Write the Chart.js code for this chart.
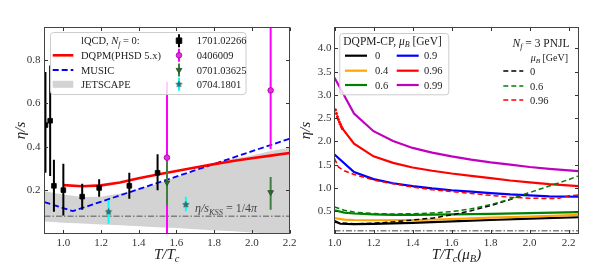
<!DOCTYPE html>
<html>
<head>
<meta charset="utf-8">
<script src="https://cdn.jsdelivr.net/npm/chart.js@4.4.0/dist/chart.umd.min.js"></script>
<style>
  html, body { margin: 0; padding: 0; background: #fff; }
  #wrap { position: relative; width: 600px; height: 275px; }
  canvas { position: absolute; top: 0; }
  #left { left: 0; }
  #right { left: 300px; }
</style>
</head>
<body>
<div id="wrap">
  <canvas id="left" width="300" height="275"></canvas>
  <canvas id="right" width="300" height="275"></canvas>
</div>
<script>
// ---------- left panel data (eta/s vs T/Tc, mu_B = 0) ----------
const leftXTicks = [1.0, 1.2, 1.4, 1.6, 1.8, 2.0, 2.2];
const leftYTicks = [0.2, 0.4, 0.6, 0.8];
const kss = 1 / (4 * Math.PI);

const dqpmT = [1.0, 1.1, 1.2, 1.3, 1.4, 1.5, 1.6, 1.7, 1.8, 1.9, 2.0, 2.1, 2.2];
const dqpmEta = [0.223, 0.218, 0.222, 0.235, 0.255, 0.272, 0.288, 0.304, 0.32, 0.334, 0.347, 0.359, 0.371];

const musicT = [0.9, 1.05, 2.2];
const musicEta = [0.145, 0.103, 0.437];

const jetT = [0.9, 1.0, 1.1, 1.2, 1.3, 1.4, 1.5, 1.6, 1.7, 1.8, 1.9, 2.0, 2.1, 2.2];
const jetLow = [0.055, 0.05, 0.046, 0.042, 0.038, 0.034, 0.029, 0.025, 0.02, 0.015, 0.01, 0.005, 0, 0];
const jetHigh = [0.195, 0.18, 0.168, 0.17, 0.185, 0.205, 0.23, 0.26, 0.29, 0.32, 0.345, 0.36, 0.38, 0.395];

// lattice points: 1701.02266
const lat1T = [0.905, 0.93, 0.95, 1.0, 1.1, 1.19, 1.35, 1.5];
const lat1Eta = [0.50, 0.52, 0.22, 0.20, 0.17, 0.21, 0.22, 0.28];
const lat1Lo = [0.28, 0.265, 0.10, 0.083, 0.11, 0.17, 0.16, 0.20];
const lat1Hi = [0.745, 0.775, 0.34, 0.322, 0.23, 0.25, 0.28, 0.365];
// 0406009
const lat2T = [1.55, 2.1];
const lat2Eta = [0.35, 0.66];
const lat2Lo = [0.0, 0.39];
const lat2Hi = [0.70, 0.95];
// 0701.03625
const lat3T = [1.55, 2.1];
const lat3Eta = [0.235, 0.19];
const lat3Lo = [0.13, 0.11];
const lat3Hi = [0.33, 0.26];
// 0704.1801
const lat4T = [1.24, 1.65];
const lat4Eta = [0.10, 0.133];
const lat4Lo = [0.045, 0.103];
const lat4Hi = [0.155, 0.17];

const refLabels = ['1701.02266', '0406009', '0701.03625', '0704.1801'];
const modelLabels = ['DQPM(PHSD 5.x)', 'MUSIC', 'JETSCAPE'];

// ---------- right panel data (eta/s vs T/Tc(mu_B)) ----------
const rightXTicks = [1.0, 1.2, 1.4, 1.6, 1.8, 2.0, 2.2];
const rightYTicks = [0.5, 1.0, 1.5, 2.0, 2.5, 3.0, 3.5, 4.0];

const cp0T = [1.0, 1.03, 1.1, 1.2, 1.4, 1.6, 1.8, 2.0, 2.25];
const cp0 = [0.29, 0.23, 0.22, 0.225, 0.25, 0.28, 0.31, 0.34, 0.37];
const cp04T = [1.0, 1.05, 1.1, 1.2, 1.4, 1.6, 1.8, 2.0, 2.25];
const cp04 = [0.35, 0.32, 0.31, 0.305, 0.31, 0.33, 0.36, 0.385, 0.42];
const cp06T = [1.0, 1.05, 1.1, 1.2, 1.3, 1.4, 1.6, 1.8, 2.0, 2.25];
const cp06 = [0.52, 0.47, 0.45, 0.43, 0.42, 0.42, 0.43, 0.44, 0.46, 0.48];
const cp09T = [1.0, 1.1, 1.2, 1.3, 1.4, 1.5, 1.6, 1.7, 1.8, 1.9, 2.0, 2.1, 2.25];
const cp09 = [1.72, 1.34, 1.19, 1.10, 1.04, 0.99, 0.95, 0.92, 0.89, 0.86, 0.84, 0.82, 0.81];
const cp096T = [1.04, 1.1, 1.2, 1.3, 1.4, 1.5, 1.6, 1.7, 1.8, 1.9, 2.0, 2.1, 2.25];
const cp096 = [2.28, 1.95, 1.68, 1.54, 1.44, 1.37, 1.31, 1.26, 1.21, 1.16, 1.12, 1.08, 1.04];
const cp096DotT = [1.005, 1.01, 1.015, 1.02, 1.025, 1.03, 1.035, 1.04];
const cp096Dot = [2.68, 2.60, 2.53, 2.47, 2.42, 2.37, 2.32, 2.28];
const cp099T = [1.0, 1.1, 1.2, 1.3, 1.4, 1.5, 1.6, 1.7, 1.8, 1.9, 2.0, 2.1, 2.25];
const cp099 = [3.37, 2.60, 2.22, 2.01, 1.86, 1.76, 1.68, 1.61, 1.55, 1.50, 1.45, 1.41, 1.36];

const pn0T = [1.0, 1.1, 1.2, 1.3, 1.4, 1.5, 1.6, 1.7, 1.8, 1.9, 2.0];
const pn0 = [0.26, 0.23, 0.24, 0.27, 0.31, 0.35, 0.42, 0.51, 0.62, 0.75, 0.90];
const pn06T = [1.0, 1.05, 1.1, 1.2, 1.3, 1.4, 1.5, 1.6, 1.7, 1.8, 1.9, 2.0, 2.1, 2.2, 2.25];
const pn06 = [0.59, 0.52, 0.48, 0.45, 0.44, 0.445, 0.46, 0.49, 0.55, 0.64, 0.76, 0.90, 1.04, 1.18, 1.26];
const pn096T = [1.0, 1.02, 1.05, 1.1, 1.2, 1.3, 1.4, 1.5, 1.6, 1.7, 1.8, 1.9, 2.0, 2.1, 2.15, 2.2, 2.25];
const pn096 = [1.63, 1.45, 1.37, 1.29, 1.17, 1.09, 1.02, 0.96, 0.92, 0.88, 0.84, 0.80, 0.78, 0.77, 0.78, 0.83, 0.85];

const cpLabels = ['0', '0.4', '0.6', '0.9', '0.96', '0.99'];
const pnLabels = ['0', '0.6', '0.96'];

// ---------- helpers ----------
const SERIF = '"Liberation Serif", "DejaVu Serif", serif';
const C = {
  black: '#000000', orange: '#ffa500', green: '#008000', blue: '#0000ff',
  red: '#ff0000', purple: '#bf00bf', grey: '#808080', band: '#d3d3d3',
  mag: '#ff00ff', dgreen: '#3f7f3f', cyan: '#00ffff'
};

function pts(xs, ys) { return xs.map((x, i) => ({ x: x, y: ys[i] })); }
function lineSet(data, color, width, dash, order) {
  return { data, borderColor: color, backgroundColor: color, borderWidth: width, borderDash: dash || [],
           showLine: true, pointRadius: 0, pointHoverRadius: 0, tension: 0, fill: false, order };
}
// one small vertical line dataset per error bar
function barSets(xs, lo, hi, color, order) {
  return xs.map((x, i) => lineSet([{ x: x, y: lo[i] }, { x: x, y: hi[i] }], color, 2, [], order));
}
function markSet(data, style, radius, fill, edge, order, rot) {
  return { data, pointStyle: style, pointRadius: radius, pointBackgroundColor: fill, pointBorderColor: edge,
           pointBorderWidth: 0.8, pointRotation: rot || 0, showLine: false, order };
}
function starCanvas(r, fill, edge) {
  const s = Math.ceil(r * 2 + 2);
  const c = document.createElement('canvas');
  c.width = c.height = s;
  const g = c.getContext('2d');
  g.beginPath();
  for (let i = 0; i < 10; i++) {
    const rr = i % 2 ? r * 0.45 : r;
    const a = -Math.PI / 2 + i * Math.PI / 5;
    g.lineTo(s / 2 + rr * Math.cos(a), s / 2 + rr * Math.sin(a));
  }
  g.closePath();
  g.fillStyle = fill; g.fill();
  g.strokeStyle = edge; g.lineWidth = 0.6; g.stroke();
  return c;
}
const star = starCanvas(3.2, '#2a7a7a', '#174848');

// text with italic / subscript pieces: r roman, i italic, is italic subscript
function rich(ctx, parts, x, y, size, align, color) {
  const font = k => {
    const sub = k.indexOf('s') >= 0;
    const sz = sub ? size * 0.7 : size;
    return [(k.indexOf('i') >= 0 ? 'italic ' : '') + sz + 'px ' + SERIF, sub ? size * 0.25 : 0];
  };
  ctx.save();
  let w = 0;
  parts.forEach(p => { ctx.font = font(p[1])[0]; w += ctx.measureText(p[0]).width; });
  let cx = align === 'center' ? x - w / 2 : (align === 'right' ? x - w : x);
  ctx.fillStyle = color || '#222';
  ctx.textAlign = 'left';
  ctx.textBaseline = 'alphabetic';
  parts.forEach(p => {
    const f = font(p[1]);
    ctx.font = f[0];
    ctx.fillText(p[0], cx, y + f[1]);
    cx += ctx.measureText(p[0]).width;
  });
  ctx.restore();
}

function seg(ctx, x0, y0, x1, y1, color, width, dash) {
  ctx.save();
  ctx.strokeStyle = color; ctx.lineWidth = width; ctx.setLineDash(dash || []);
  ctx.beginPath(); ctx.moveTo(x0, y0); ctx.lineTo(x1, y1); ctx.stroke();
  ctx.restore();
}

function legendBox(ctx, x0, y0, x1, y1) {
  ctx.save();
  ctx.beginPath();
  ctx.roundRect(x0 + 0.5, y0 + 0.5, x1 - x0, y1 - y0, 3);
  ctx.fillStyle = 'rgba(255,255,255,0.8)';
  ctx.fill();
  ctx.strokeStyle = '#cccccc'; ctx.lineWidth = 1;
  ctx.stroke();
  ctx.restore();
}

function errHandle(ctx, x, y, color, kind, fill, edge) {
  seg(ctx, x, y - 6.5, x, y + 6.5, color, 2);
  ctx.save();
  ctx.fillStyle = fill; ctx.strokeStyle = edge; ctx.lineWidth = 0.8;
  ctx.beginPath();
  if (kind === 'rect') ctx.rect(x - 2.8, y - 2.8, 5.6, 5.6);
  if (kind === 'circle') ctx.arc(x, y, 2.8, 0, 2 * Math.PI);
  if (kind === 'tri') { ctx.moveTo(x - 2.9, y - 1.6); ctx.lineTo(x + 2.9, y - 1.6); ctx.lineTo(x, y + 3.3); ctx.closePath(); }
  if (kind !== 'star') { ctx.fill(); ctx.stroke(); }
  else ctx.drawImage(star, x - star.width / 2, y - star.height / 2);
  ctx.restore();
}

function frameTicks(chart) {
  const { ctx, chartArea: a } = chart;
  const xs = chart.scales.x, ys = chart.scales.y;
  ctx.save();
  ctx.strokeStyle = '#333'; ctx.lineWidth = 1;
  ctx.beginPath();
  xs.ticks.forEach(t => {
    const p = Math.round(xs.getPixelForValue(t.value)) + 0.5;
    ctx.moveTo(p, a.bottom); ctx.lineTo(p, a.bottom - 3.5);
    ctx.moveTo(p, a.top); ctx.lineTo(p, a.top + 3.5);
  });
  ys.ticks.forEach(t => {
    const p = Math.round(ys.getPixelForValue(t.value)) + 0.5;
    ctx.moveTo(a.left, p); ctx.lineTo(a.left + 3.5, p);
    ctx.moveTo(a.right, p); ctx.lineTo(a.right - 3.5, p);
  });
  ctx.stroke();
  ctx.strokeStyle = '#444';
  ctx.strokeRect(a.left, a.top, a.right - a.left, a.bottom - a.top);
  ctx.restore();
}

function makeChart(id, datasets, cfg, decor) {
  const tickFont = { family: SERIF, size: 11 };
  return new Chart(document.getElementById(id), {
    type: 'scatter',
    data: { datasets },
    options: {
      responsive: false,
      animation: false,
      devicePixelRatio: 1,
      events: [],
      layout: { padding: { left: 0, right: cfg.padRight, top: cfg.padTop, bottom: 0 } },
      plugins: { legend: { display: false }, tooltip: { enabled: false } },
      scales: {
        x: {
          type: 'linear', min: cfg.xMin, max: cfg.xMax,
          grid: { display: false, drawTicks: false }, border: { display: false },
          ticks: { font: tickFont, color: '#333', padding: 3, callback: v => v.toFixed(1) },
          afterBuildTicks: s => { s.ticks = cfg.xTicks.map(v => ({ value: v })); },
          afterFit: s => { s.height = cfg.xAxisHeight; }
        },
        y: {
          type: 'linear', min: cfg.yMin, max: cfg.yMax,
          grid: { display: false, drawTicks: false }, border: { display: false },
          ticks: { font: tickFont, color: '#333', padding: cfg.yPad, callback: v => v.toFixed(1) },
          afterBuildTicks: s => { s.ticks = cfg.yTicks.map(v => ({ value: v })); },
          afterFit: s => { s.width = cfg.yAxisWidth; }
        }
      }
    },
    plugins: [{ id: id + 'Decor', afterDraw: chart => { frameTicks(chart); decor(chart.ctx); } }]
  });
}

// ---------- left chart ----------
const leftSets = [
  markSet(pts(lat1T, lat1Eta), 'rect', 3.3, '#000', '#000', 8),
  ...barSets(lat1T, lat1Lo, lat1Hi, '#000', 9),
  markSet(pts(lat4T, lat4Eta), star, 3, '#2a7a7a', '#174848', 10),
  ...barSets(lat4T, lat4Lo, lat4Hi, C.cyan, 11),
  markSet(pts(lat3T, lat3Eta), 'triangle', 3.3, '#2d6a2d', '#1f4f1f', 12, 180),
  ...barSets(lat3T, lat3Lo, lat3Hi, C.dgreen, 13),
  markSet(pts(lat2T, lat2Eta), 'circle', 2.8, '#e030e0', '#a000a0', 14),
  ...barSets(lat2T, lat2Lo, lat2Hi, C.mag, 15),
  lineSet(pts(dqpmT, dqpmEta), C.red, 2.6, [], 16),
  lineSet(pts(musicT, musicEta), C.blue, 1.8, [6, 3], 17),
  lineSet(pts([0.9, 2.2], [kss, kss]), C.grey, 1.5, [6, 2, 1.5, 2], 18),
  lineSet(pts(jetT, jetLow), C.band, 0, [], 20),
  Object.assign(lineSet(pts(jetT, jetHigh), C.band, 0, [], 19), { fill: '-1', backgroundColor: C.band })
];

makeChart('left', leftSets, {
  xMin: 0.9, xMax: 2.2, yMin: 0.0, yMax: 0.95,
  xTicks: leftXTicks, yTicks: leftYTicks,
  padRight: 10.5, padTop: 27.5, xAxisHeight: 41.5, yAxisWidth: 44.5, yPad: 4
}, ctx => {
  rich(ctx, [['η/s', 'i'], ['KSS', 'is'], [' = 1/4', 'r'], ['π', 'i']], 195, 212, 12, 'left', '#444');
  rich(ctx, [['T/T', 'i'], ['c', 'is']], 166.7, 258.5, 15, 'center', '#222');
  ctx.save(); ctx.translate(24.5, 130.5); ctx.rotate(-Math.PI / 2);
  rich(ctx, [['η/s', 'i']], 0, 0, 15, 'center', '#222');
  ctx.restore();

  legendBox(ctx, 50, 32, 245.5, 94);
  const rows = [40.7, 55.3, 70, 84.3];
  const fs = 10.5, dy = 3.6;
  rich(ctx, [['lQCD, ', 'r'], ['N', 'i'], ['f', 'is'], [' = 0:', 'r']], 81, rows[0] + dy, fs, 'left');
  seg(ctx, 52.7, rows[1], 73.3, rows[1], C.red, 2.6);
  seg(ctx, 52.7, rows[2], 73.3, rows[2], C.blue, 1.8, [6, 3]);
  ctx.fillStyle = C.band; ctx.fillRect(52.7, rows[3] - 3.5, 20.6, 7);
  modelLabels.forEach((t, i) => rich(ctx, [[t, 'r']], 81, rows[i + 1] + dy, fs, 'left'));
  errHandle(ctx, 179, rows[0], '#000', 'rect', '#000', '#000');
  errHandle(ctx, 179, rows[1], C.mag, 'circle', '#e030e0', '#a000a0');
  errHandle(ctx, 179, rows[2], C.dgreen, 'tri', '#2d6a2d', '#1f4f1f');
  errHandle(ctx, 179, rows[3], C.cyan, 'star');
  refLabels.forEach((t, i) => rich(ctx, [[t, 'r']], 196.7, rows[i] + dy, fs, 'left'));
});

// ---------- right chart ----------
const rightSets = [
  lineSet(pts(pn096T, pn096), C.red, 1.5, [5, 3], 20),
  lineSet(pts(pn06T, pn06), C.green, 1.5, [5, 3], 21),
  lineSet(pts(pn0T, pn0), C.black, 1.5, [5, 3], 22),
  lineSet(pts(cp099T, cp099), C.purple, 2.2, [], 23),
  Object.assign(lineSet(pts(cp096DotT, cp096Dot), C.red, 1.5, [1.5, 1.5], 24),
                { pointRadius: 1.5, pointBackgroundColor: C.red, pointBorderWidth: 0 }),
  lineSet(pts(cp096T, cp096), C.red, 2.2, [], 25),
  lineSet(pts(cp09T, cp09), C.blue, 2.2, [], 26),
  lineSet(pts(cp06T, cp06), C.green, 2.2, [], 27),
  lineSet(pts(cp04T, cp04), C.orange, 2.2, [], 28),
  lineSet(pts(cp0T, cp0), C.black, 2.2, [], 29),
  lineSet(pts([1.0, 2.25], [kss, kss]), C.grey, 1.5, [6, 2, 1.5, 2], 30)
];

makeChart('right', rightSets, {
  xMin: 1.0, xMax: 2.25, yMin: 0.02, yMax: 4.45,
  xTicks: rightXTicks, yTicks: rightYTicks,
  padRight: 21.5, padTop: 27.5, xAxisHeight: 41.5, yAxisWidth: 34.5, yPad: 3
}, ctx => {
  rich(ctx, [['T/T', 'i'], ['c', 'is'], ['(μ', 'i'], ['B', 'is'], [')', 'i']], 156.5, 258.5, 15, 'center', '#222');
  ctx.save(); ctx.translate(10, 130.5); ctx.rotate(-Math.PI / 2);
  rich(ctx, [['η/s', 'i']], 0, 0, 15, 'center', '#222');
  ctx.restore();

  const fs = 10.5, dy = 3.6;
  legendBox(ctx, 39.3, 33, 148.3, 94.3);
  rich(ctx, [['DQPM-CP, ', 'r'], ['μ', 'i'], ['B', 'is'], [' [GeV]', 'r']], 43.3, 44.5, 11.5, 'left');
  const rows = [55.7, 70.7, 85];
  const cpCols = [C.black, C.orange, C.green, C.blue, C.red, C.purple];
  cpLabels.forEach((t, i) => {
    const col = Math.floor(i / 3), r = rows[i % 3];
    const hx = col ? 96.7 : 45, tx = col ? 124 : 75;
    seg(ctx, hx, r, hx + 22, r, cpCols[i], 2.2);
    rich(ctx, [[t, 'r']], tx, r + dy, fs, 'left');
  });

  rich(ctx, [['N', 'i'], ['f', 'is'], [' = 3 PNJL', 'r']], 269.5, 46.5, 11.5, 'right');
  rich(ctx, [['μ', 'i'], ['B', 'is'], [' [GeV]', 'r']], 268, 60.5, 10, 'right');
  const pRows = [71, 86, 100];
  const pnCols = [C.black, C.green, C.red];
  pnLabels.forEach((t, i) => {
    seg(ctx, 203.3, pRows[i], 223.3, pRows[i], pnCols[i], 1.5, [5, 3]);
    rich(ctx, [[t, 'r']], 230, pRows[i] + dy, fs, 'left');
  });
});
</script>
</body>
</html>
